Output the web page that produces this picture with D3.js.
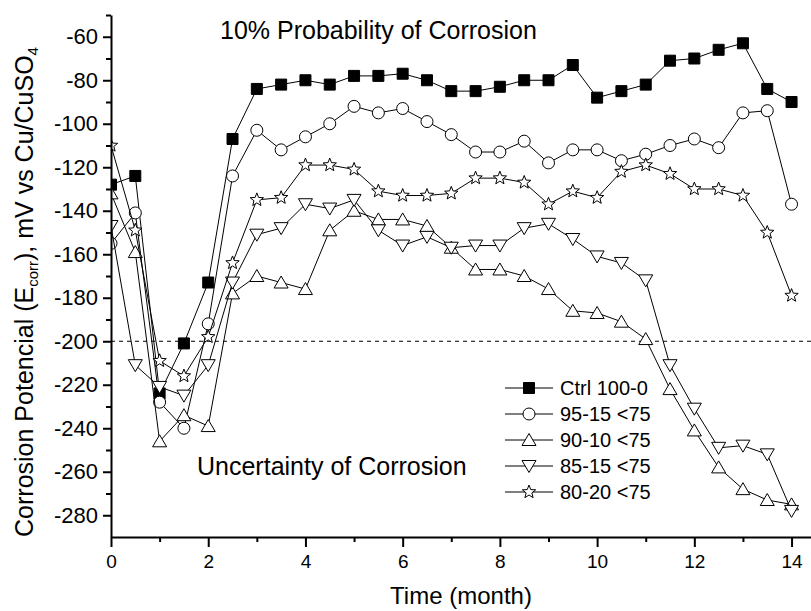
<!DOCTYPE html>
<html>
<head>
<meta charset="utf-8">
<script src="https://cdn.jsdelivr.net/npm/d3@7"></script>
<style>
  body { margin: 0; background: #fff; }
  svg { display: block; font-family: "Liberation Sans", Arial, sans-serif; }
  .axis path, .axis line { stroke: #000; stroke-width: 2; }
  .axis text { fill: #000; }
  .series path.line { fill: none; stroke: #000; stroke-width: 1; }
</style>
</head>
<body>
<svg id="chart" width="811" height="611"></svg>
<script>
// time in months
const months = [0, 0.5, 1, 1.5, 2, 2.5, 3, 3.5, 4, 4.5, 5, 5.5, 6, 6.5, 7, 7.5, 8, 8.5, 9, 9.5, 10, 10.5, 11, 11.5, 12, 12.5, 13, 13.5, 14];

// corrosion potential, mV vs Cu/CuSO4
const ctrl100 = [-128, -124, -224, -201, -173, -107, -84, -82, -80, -82, -78, -78, -77, -80, -85, -85, -83, -80, -80, -73, -88, -85, -82, -71, -70, -66, -63, -84, -90];
const mix95 = [-155, -141, -228, -240, -192, -124, -103, -112, -106, -100, -92, -95, -93, -99, -105, -113, -113, -108, -118, -112, -112, -117, -114, -110, -107, -111, -95, -94, -137];
const mix90 = [-132, -159, -246, -234, -239, -178, -170, -173, -176, -149, -140, -144, -144, -147, -157, -167, -167, -170, -176, -186, -187, -191, -199, -222, -241, -258, -268, -273, -275];
const mix85 = [-147, -211, -221, -225, -211, -173, -151, -148, -137, -139, -135, -149, -156, -152, -157, -156, -156, -148, -146, -153, -161, -164, -172, -211, -231, -249, -248, -252, -278];
const mix80 = [-110, -149, -209, -216, -198, -164, -135, -134, -119, -119, -121, -131, -133, -133, -132, -125, -125, -127, -137, -131, -134, -122, -119, -123, -130, -130, -133, -150, -179];

const seriesNames = ["Ctrl 100-0", "95-15 <75", "90-10 <75", "85-15 <75", "80-20 <75"];
const seriesValues = [ctrl100, mix95, mix90, mix85, mix80];
const markerKinds = ["square", "circle", "up", "down", "star"];

const xTicks = [0, 2, 4, 6, 8, 10, 12, 14];
const yTicks = [-60, -80, -100, -120, -140, -160, -180, -200, -220, -240, -260, -280];
const thresholdValue = -200;

const svg = d3.select("#chart");
const plotLeft = 111, plotRight = 811, plotTop = 15, plotBottom = 537;

const x = d3.scaleLinear().domain([0, 14.4]).range([plotLeft, plotRight]);
const y = d3.scaleLinear().domain([-290, -50]).range([plotBottom, plotTop]);

// marker shapes
function markerPath(kind) {
    if (kind === "square") return "M-5.5,-5.5H5.5V5.5H-5.5Z";
    if (kind === "up") return "M0,-6.5L7,5.5L-7,5.5Z";
    if (kind === "down") return "M0,6.5L7,-5.5L-7,-5.5Z";
    if (kind === "star") {
        let p = [];
        for (let i = 0; i < 10; i++) {
            let r = (i % 2 === 0) ? 7 : 3;
            let a = -Math.PI / 2 + i * Math.PI / 5;
            p.push([r * Math.cos(a), r * Math.sin(a)]);
        }
        return "M" + p.map(d => d[0].toFixed(2) + "," + d[1].toFixed(2)).join("L") + "Z";
    }
    return d3.symbol(d3.symbolCircle, Math.PI * 36)();
}

svg.append("clipPath").attr("id", "plotclip")
  .append("rect")
    .attr("x", plotLeft).attr("y", 0)
    .attr("width", plotRight - plotLeft).attr("height", plotBottom);

// threshold line at -200
svg.append("line")
    .attr("x1", plotLeft).attr("x2", plotRight)
    .attr("y1", y(thresholdValue)).attr("y2", y(thresholdValue))
    .attr("stroke", "#000")
    .attr("stroke-width", 1)
    .attr("stroke-dasharray", "4,4");

const line = d3.line()
    .x((d, i) => x(months[i]))
    .y(d => y(d));

const plot = svg.append("g").attr("clip-path", "url(#plotclip)");

seriesValues.forEach(function(vals, k) {
    let g = plot.append("g").attr("class", "series");
    g.append("path").attr("class", "line").attr("d", line(vals));
    g.selectAll(".mk")
        .data(vals)
        .enter()
        .append("path")
            .attr("class", "mk")
            .attr("d", markerPath(markerKinds[k]))
            .attr("transform", (d, i) => "translate(" + x(months[i]) + "," + y(d) + ")")
            .attr("fill", markerKinds[k] === "square" ? "#000" : "#fff")
            .attr("stroke", "#000")
            .attr("stroke-width", 1);
});

// axes
const xAxis = svg.append("g")
    .attr("class", "axis")
    .attr("transform", "translate(0," + plotBottom + ")")
    .call(d3.axisBottom(x).tickValues(xTicks).tickSize(10).tickSizeOuter(0).tickPadding(8).tickFormat(d => String(d)));
xAxis.selectAll("text").style("font-size", "19px");

svg.append("g")
    .attr("class", "axis")
    .attr("transform", "translate(0," + plotBottom + ")")
    .call(d3.axisBottom(x).tickValues(d3.range(1, 14, 2)).tickSize(5).tickSizeOuter(0).tickFormat(""))
    .select(".domain").remove();

const yAxis = svg.append("g")
    .attr("class", "axis")
    .attr("transform", "translate(" + plotLeft + ",0)")
    .call(d3.axisLeft(y).tickValues(yTicks).tickSize(8).tickSizeOuter(0).tickPadding(5).tickFormat(d => String(d)));
yAxis.selectAll("text").style("font-size", "22px");

svg.append("g")
    .attr("class", "axis")
    .attr("transform", "translate(" + plotLeft + ",0)")
    .call(d3.axisLeft(y).tickValues(d3.range(-270, -40, 20)).tickSize(5).tickSizeOuter(0).tickFormat(""))
    .select(".domain").remove();

// axis titles
svg.append("text")
    .attr("x", (plotLeft + plotRight) / 2)
    .attr("y", 604)
    .attr("text-anchor", "middle")
    .style("font-size", "24px")
    .text("Time (month)");

const yt = svg.append("text")
    .attr("transform", "translate(33,292) rotate(-90)")
    .attr("text-anchor", "middle")
    .style("font-size", "25px");
yt.append("tspan").text("Corrosion Potencial (E");
yt.append("tspan").attr("dy", 5).style("font-size", "15px").text("corr");
yt.append("tspan").attr("dy", -5).text("), mV vs Cu/CuSO");
yt.append("tspan").attr("dy", 5).style("font-size", "15px").text("4");

// annotations
svg.append("text").attr("x", 220).attr("y", 39).style("font-size", "25px")
    .text("10% Probability of Corrosion");
svg.append("text").attr("x", 197).attr("y", 475).style("font-size", "25px")
    .text("Uncertainty of Corrosion");

// legend
const legend = svg.append("g").attr("transform", "translate(505,388)");
seriesNames.forEach(function(name, k) {
    let row = legend.append("g").attr("transform", "translate(0," + (k * 26) + ")");
    row.append("line").attr("x1", 0).attr("x2", 48).attr("stroke", "#000").attr("stroke-width", 1);
    row.append("path")
        .attr("d", markerPath(markerKinds[k]))
        .attr("transform", "translate(24,0)")
        .attr("fill", markerKinds[k] === "square" ? "#000" : "#fff")
        .attr("stroke", "#000");
    row.append("text")
        .attr("x", 55).attr("dy", "0.35em")
        .style("font-size", "20px")
        .text(name);
});
</script>
</body>
</html>
